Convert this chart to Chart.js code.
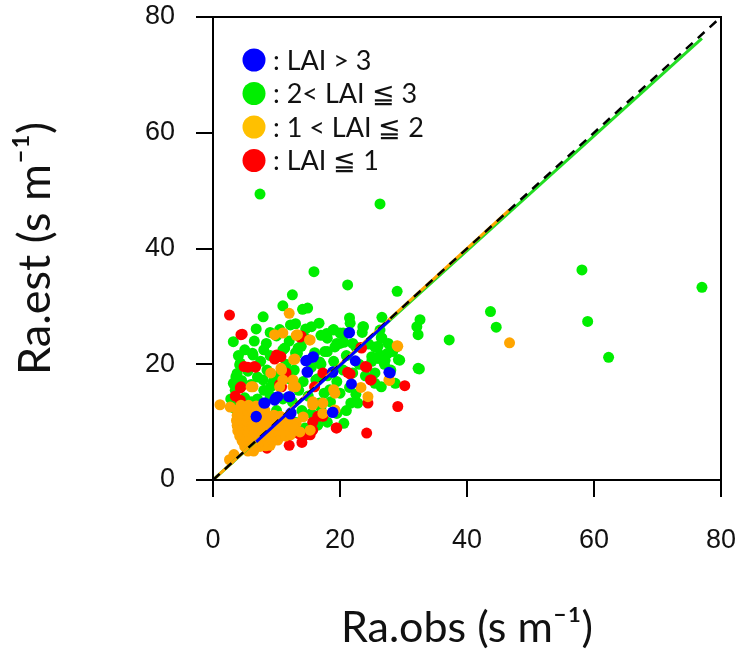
<!DOCTYPE html>
<html>
<head>
<meta charset="utf-8">
<script src="https://cdn.jsdelivr.net/npm/chart.js@4.4.1/dist/chart.umd.min.js"></script>
<style>
  html, body { margin: 0; padding: 0; background: #fff; }
  #chart { display: block; }
</style>
</head>
<body>
<canvas id="chart" width="738" height="656"></canvas>
<script>
// Ra.obs vs Ra.est, split by LAI class
const legendLabels = [': LAI > 3', ': 2< LAI \u2266 3', ': 1 < LAI \u2266 2', ': LAI \u2266 1'];
const axisTicks = [0, 20, 40, 60, 80];

// LAI > 3
const laiOver3 = [
    [21.5, 25.5], [15.8, 21.3], [14.6, 20.6], [15.7, 21.2], [14.8, 20.7], [22.4, 20.6],
    [18.8, 18.6], [18.9, 18.7], [14.9, 18.6], [14.8, 18.7], [27.7, 18.6], [21.8, 16.6],
    [21.4, 25.4], [11.9, 14.4], [12.1, 14.4], [10.2, 14.4], [9.9, 14.2], [9.7, 13.8],
    [8.0, 13.3], [8.2, 13.3], [12.2, 11.4], [12.3, 11.6], [18.8, 11.7], [18.9, 11.7],
    [6.8, 11.0], [6.8, 10.9], [27.9, 18.5]
];

// 2 < LAI <= 3
const lai2to3 = [
    [7.4, 49.4], [26.3, 47.7], [58.1, 36.3], [77.0, 33.3], [59.0, 27.4], [62.3, 21.2],
    [43.7, 29.1], [44.6, 26.4], [37.2, 24.2], [32.6, 27.7], [32.3, 25.1], [32.5, 19.2],
    [32.1, 26.5], [32.3, 19.3], [15.9, 36.0], [21.2, 33.7], [29.0, 32.6], [12.5, 32.0],
    [11.0, 30.1], [14.1, 29.5], [14.9, 29.7], [7.9, 28.2], [16.7, 27.1], [21.5, 28.0],
    [21.6, 27.1], [26.6, 28.1], [23.7, 26.5], [12.2, 26.8], [3.2, 23.9], [6.8, 26.1],
    [20.0, 25.4], [20.6, 23.8], [26.5, 24.6], [27.5, 21.9], [29.2, 20.8], [26.0, 23.1],
    [18.0, 22.2], [19.5, 23.6], [13.9, 23.1], [13.3, 21.9], [10.0, 24.9], [8.4, 23.6],
    [6.2, 21.9], [4.3, 20.2], [3.8, 18.4], [3.2, 16.7], [25.5, 16.7], [26.5, 16.1],
    [28.7, 16.7], [21.7, 13.3], [22.8, 13.3], [20.6, 9.8], [16.8, 13.3], [18.4, 15.6],
    [14.6, 26.1], [13.4, 22.8], [11.3, 22.8], [6.3, 21.6], [4.2, 19.9], [16.2, 17.3],
    [3.6, 17.8], [7.9, 17.3], [9.1, 16.1], [20.5, 25.4], [22.0, 23.6], [26.3, 25.9],
    [26.6, 24.5], [27.6, 23.6], [28.9, 23.0], [25.0, 21.3], [26.3, 21.6], [27.1, 20.7],
    [29.4, 20.7], [28.3, 22.2], [17.9, 25.3], [18.9, 25.9], [19.2, 23.0], [17.6, 22.2],
    [16.8, 20.4], [25.5, 23.0], [3.5, 15.5], [4.5, 17.2], [5.5, 18.8], [6.0, 16.5],
    [7.0, 17.8], [7.5, 20.5], [8.5, 19.0], [9.0, 21.5], [9.5, 17.0], [10.5, 18.2],
    [11.0, 22.5], [11.5, 20.0], [12.0, 17.5], [12.8, 19.0], [13.5, 15.5], [14.2, 17.0],
    [15.0, 14.5], [15.5, 19.5], [16.0, 22.0], [16.5, 17.5], [17.0, 20.0], [17.5, 15.0],
    [18.0, 18.0], [18.5, 13.5], [19.0, 20.5], [19.5, 17.0], [20.0, 15.0], [20.5, 19.0],
    [21.0, 21.5], [21.5, 16.0], [22.0, 18.5], [22.5, 14.8], [23.0, 20.0], [24.0, 18.0],
    [25.0, 20.5], [25.5, 18.5], [26.0, 21.0], [27.0, 20.0], [28.0, 19.0], [14.0, 12.0],
    [15.5, 11.5], [17.0, 12.5], [12.5, 13.5], [11.0, 14.0], [10.0, 12.0], [9.0, 14.5],
    [8.0, 15.5], [7.0, 14.0], [6.0, 13.5], [5.0, 14.2], [4.0, 13.0], [3.2, 12.5],
    [2.8, 14.0], [16.5, 9.5], [18.0, 10.0], [19.5, 11.5], [21.0, 12.0], [13.0, 22.0],
    [14.5, 24.5], [12.0, 24.0], [10.5, 26.0], [9.0, 25.5], [8.0, 22.5], [6.5, 24.0],
    [5.0, 22.5], [4.0, 21.5], [19.0, 26.0], [18.0, 24.5], [22.5, 23.0], [24.5, 23.5],
    [23.5, 25.5], [17.0, 25.0], [15.5, 26.5], [13.0, 27.0], [14.5, 9.0], [13.0, 10.0],
    [23.6, 26.5], [20.0, 23.6]
];

// 1 < LAI <= 2
const lai1to2 = [
    [46.7, 23.7], [29.0, 23.2], [29.1, 23.1], [27.8, 17.2], [27.7, 17.3], [12.0, 28.8],
    [9.7, 25.1], [11.0, 25.4], [13.3, 25.1], [13.1, 25.0], [15.2, 24.2], [15.3, 24.2],
    [23.3, 16.0], [24.4, 14.4], [12.7, 20.8], [12.9, 20.9], [10.8, 19.0], [10.7, 19.3],
    [9.1, 18.5], [12.6, 17.3], [11.0, 17.3], [6.0, 16.1], [6.3, 16.1], [10.5, 16.1],
    [12.6, 16.1], [1.1, 13.0], [19.0, 15.6], [19.2, 15.0], [19.2, 12.1], [17.3, 11.5],
    [13.0, 16.1], [15.7, 13.0], [15.7, 13.5], [17.3, 13.3], [15.3, 8.6], [14.2, 10.9],
    [13.1, 9.8],
    [5.5, 5.0], [6.4, 5.0],
    [5.0, 5.8], [5.8, 5.8], [6.6, 5.8], [7.4, 5.8], [8.3, 5.9], [9.0, 6.0],
    [4.6, 6.7], [5.4, 6.7], [6.2, 6.6], [7.0, 6.7], [7.8, 6.8], [8.6, 6.7], [9.4, 6.8], [10.2, 6.9],
    [4.2, 7.6], [5.0, 7.6], [5.8, 7.5], [6.6, 7.6], [7.4, 7.7], [8.2, 7.6], [9.0, 7.5],
    [9.8, 7.6], [10.6, 7.7], [11.4, 7.6], [12.2, 7.8],
    [3.9, 8.5], [4.7, 8.5], [5.5, 8.4], [6.3, 8.5], [7.1, 8.6], [7.9, 8.5], [8.7, 8.4],
    [9.5, 8.5], [10.3, 8.6], [11.1, 8.5], [11.9, 8.4], [12.8, 8.6], [13.7, 8.3],
    [3.8, 9.4], [4.6, 9.4], [5.4, 9.3], [6.2, 9.4], [7.0, 9.5], [7.8, 9.4], [8.6, 9.3],
    [9.4, 9.4], [10.2, 9.5], [11.0, 9.4], [11.8, 9.3], [12.6, 9.5],
    [3.7, 10.3], [4.5, 10.3], [5.3, 10.2], [6.1, 10.3], [6.9, 10.4], [7.7, 10.3],
    [8.5, 10.2], [9.3, 10.3], [10.1, 10.4], [10.9, 10.3], [11.7, 10.2],
    [3.8, 11.2], [4.6, 11.2], [5.4, 11.1], [6.2, 11.2], [7.0, 11.3], [7.8, 11.2],
    [8.6, 11.1], [9.6, 11.2], [10.6, 11.0],
    [3.9, 12.1], [4.7, 12.1], [5.5, 12.0], [6.3, 12.1], [7.2, 12.2], [8.2, 12.0],
    [4.4, 12.9], [5.6, 12.9], [6.8, 12.8], [2.7, 12.6], [3.3, 4.4], [2.6, 3.5]
];

// LAI <= 1
const laiUnder1 = [
    [2.6, 28.5], [4.4, 25.1], [4.6, 25.2], [23.3, 22.9], [23.4, 22.8], [24.0, 19.6],
    [24.2, 19.5], [30.2, 16.3], [29.1, 12.7], [24.2, 8.1], [24.4, 13.3], [24.8, 17.3],
    [24.9, 17.3], [21.2, 18.6], [21.6, 18.3], [19.5, 9.0], [19.4, 9.0], [4.9, 19.6],
    [5.5, 19.5], [6.5, 19.6], [6.7, 19.5], [10.6, 21.3], [10.0, 21.6], [9.7, 20.9],
    [10.7, 21.3], [4.3, 15.9], [4.4, 16.1], [10.8, 16.1], [16.0, 16.1], [17.3, 11.0],
    [15.7, 8.6], [14.6, 7.8], [15.3, 7.8], [7.6, 6.9], [4.3, 13.8], [12.6, 9.9],
    [13.9, 24.9], [13.7, 24.7], [11.5, 18.5], [17.3, 18.5], [15.7, 10.0], [5.5, 12.5],
    [9.5, 10.5], [13.5, 8.0], [14.0, 6.5], [12.0, 6.0], [8.5, 5.5], [16.5, 11.0],
    [10.5, 16.5], [3.5, 14.5]
];

// fitted lines and the 1:1 line
const fitLaiOver3 = [[6.8, 6.6], [27.8, 27.6]];
const fitLai2to3 = [[0, 0], [77.0, 76.3]];
const fitLai1to2 = [[0.3, 0.3], [46.6, 46.6]];
const oneToOne = [[0, 0], [80, 80]];

const pointColors = ['#0000ff', '#00ee00', '#ffa500', '#ff0000'];
const legendColors = ['#0000ff', '#00ee00', '#ffc000', '#ff0000'];

const toXY = pts => pts.map(p => ({ x: p[0], y: p[1] }));

function pointSet(label, pts, color, order) {
    return {
        type: 'scatter',
        label: label,
        data: toXY(pts),
        backgroundColor: color,
        borderWidth: 0,
        pointRadius: 5.5,
        order: order
    };
}

function lineSet(pts, color, width, dash, order) {
    return {
        type: 'line',
        data: toXY(pts),
        borderColor: color,
        borderWidth: width,
        borderDash: dash,
        pointRadius: 0,
        fill: false,
        order: order
    };
}

// legend drawn inside the plot, upper left
const insideLegend = {
    id: 'insideLegend',
    afterDatasetsDraw(chart) {
        const ctx = chart.ctx;
        const area = chart.chartArea;
        ctx.save();
        ctx.font = '27px Lato, "Noto Sans", sans-serif';
        ctx.textBaseline = 'middle';
        legendLabels.forEach((text, i) => {
            const cy = area.top + 43 + i * 33.5;
            ctx.beginPath();
            ctx.arc(area.left + 41, cy, 11.5, 0, Math.PI * 2);
            ctx.fillStyle = legendColors[i];
            ctx.fill();
            ctx.fillStyle = '#111';
            ctx.fillText(text, area.left + 60, cy + 1);
        });
        ctx.restore();
    }
};

// closes the frame on top and right
const frame = {
    id: 'frame',
    afterDraw(chart) {
        const ctx = chart.ctx;
        const a = chart.chartArea;
        ctx.save();
        ctx.strokeStyle = '#000';
        ctx.lineWidth = 2;
        ctx.strokeRect(a.left, a.top, a.right - a.left, a.bottom - a.top);
        ctx.restore();
    }
};

const tickFont = { family: '"Liberation Sans", Arial, sans-serif', size: 27 };

new Chart(document.getElementById('chart'), {
    type: 'scatter',
    data: {
        datasets: [
            pointSet(legendLabels[0], laiOver3, pointColors[0], 5),
            pointSet(legendLabels[1], lai2to3, pointColors[1], 8),
            pointSet(legendLabels[2], lai1to2, pointColors[2], 6),
            pointSet(legendLabels[3], laiUnder1, pointColors[3], 7),
            lineSet(fitLai2to3, '#22dd22', 3, [], 4),
            lineSet(fitLai1to2, '#ffa500', 3, [], 3),
            lineSet(oneToOne, '#000', 2.5, [9, 7], 2),
            lineSet(fitLaiOver3, '#0000ff', 3, [], 1)
        ]
    },
    options: {
        responsive: false,
        animation: false,
        layout: { padding: 0 },
        plugins: {
            legend: { display: false },
            tooltip: { enabled: false }
        },
        scales: {
            x: {
                type: 'linear',
                min: axisTicks[0],
                max: axisTicks[axisTicks.length - 1],
                afterBuildTicks: s => { s.ticks = axisTicks.map(v => ({ value: v })); },
                afterFit: s => { s.height = 176; s.paddingLeft = 0; s.paddingRight = 17; },
                ticks: { font: tickFont, color: '#111', padding: 27, maxRotation: 0 },
                grid: { drawOnChartArea: false, tickLength: 17, color: '#000', lineWidth: 2 },
                border: { color: '#000', width: 2 },
                title: {
                    display: true,
                    text: 'Ra.obs (s m\u207B\u00B9)',
                    font: { family: 'Lato, "Noto Sans", sans-serif', size: 43 },
                    color: '#111',
                    padding: { top: 0, bottom: 2 }
                }
            },
            y: {
                type: 'linear',
                min: axisTicks[0],
                max: axisTicks[axisTicks.length - 1],
                afterBuildTicks: s => { s.ticks = axisTicks.map(v => ({ value: v })); },
                afterFit: s => { s.width = 213; s.paddingTop = 17; s.paddingBottom = 0; },
                ticks: { font: tickFont, color: '#111', padding: 21 },
                grid: { drawOnChartArea: false, tickLength: 17, color: '#000', lineWidth: 2 },
                border: { color: '#000', width: 2 },
                title: {
                    display: true,
                    text: 'Ra.est (s m\u207B\u00B9)',
                    font: { family: 'Lato, "Noto Sans", sans-serif', size: 45 },
                    color: '#111',
                    padding: { top: 8, bottom: 0 }
                }
            }
        }
    },
    plugins: [insideLegend, frame]
});
</script>
</body>
</html>
